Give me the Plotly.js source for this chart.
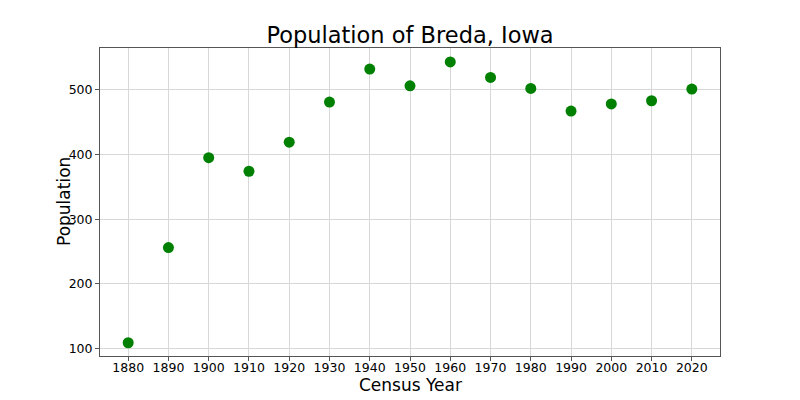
<!DOCTYPE html>
<html>
<head>
<meta charset="utf-8">
<script src="https://cdn.plot.ly/plotly-3.0.1.min.js"></script>
<style>html,body{margin:0;padding:0;background:#fff;}#chart{width:800px;height:400px;}</style>
</head>
<body>
<div id="chart"></div>
<script>
const years = [1880, 1890, 1900, 1910, 1920, 1930, 1940, 1950, 1960, 1970, 1980, 1990, 2000, 2010, 2020];
const population = [109, 256, 395, 374, 419, 481, 532, 506, 543, 519, 502, 467, 478, 483, 501];
const yTicks = [100, 200, 300, 400, 500];

const font = "DejaVu Sans, sans-serif";
Plotly.newPlot('chart', [{
  x: years, y: population, type: 'scatter', mode: 'markers',
  marker: {color: 'green', size: 11}
}, {
  x: [years[0]], y: [population[0]], xaxis: 'x2', type: 'scatter', mode: 'markers',
  marker: {opacity: 0}, hoverinfo: 'skip', showlegend: false
}], {
  width: 800, height: 400,
  margin: {l: 100, r: 80, t: 48, b: 44},
  paper_bgcolor: '#fff', plot_bgcolor: '#fff',
  title: {text: 'Population of Breda, Iowa', font: {family: font, size: 22.5, color: '#000'}, x: 0.5125, xanchor: 'center', xref: 'container', yref: 'container', y: 0.9125, yanchor: 'middle'},
  xaxis: {
    range: [1873, 2027], tickvals: years, ticktext: years.map(String),
    tickfont: {family: font, size: 12.5, color: '#000'},
    showgrid: true, gridcolor: '#d8d8d8', gridwidth: 1,
    showline: true, linecolor: '#555', linewidth: 1, mirror: true,
    ticks: '', zeroline: false
  },
  xaxis2: {
    overlaying: 'x', matches: 'x', range: [1873, 2027], tickvals: years,
    showticklabels: false, showgrid: false, zeroline: false, showline: false,
    ticks: 'outside', ticklen: 4, tickcolor: '#555', side: 'bottom', anchor: 'y'
  },
  yaxis: {
    range: [88.5, 564.5], tickvals: yTicks, ticktext: yTicks.map(String),
    tickfont: {family: font, size: 12.5, color: '#000'},
    showgrid: true, gridcolor: '#d8d8d8', gridwidth: 1,
    showline: true, linecolor: '#555', linewidth: 1, mirror: true,
    ticks: 'outside', ticklen: 4, tickcolor: '#555', zeroline: false
  },
  annotations: [
    {text: 'Census Year', xref: 'paper', yref: 'paper', x: 0.5, y: 0, xanchor: 'center', yanchor: 'middle', yshift: -29, showarrow: false, font: {family: font, size: 17, color: '#000'}},
    {text: 'Population', xref: 'paper', yref: 'paper', x: 0, y: 0.5, xanchor: 'center', yanchor: 'middle', xshift: -36, textangle: -90, showarrow: false, font: {family: font, size: 17, color: '#000'}}
  ],
  showlegend: false
}, {displayModeBar: false, staticPlot: true});
</script>
</body>
</html>
